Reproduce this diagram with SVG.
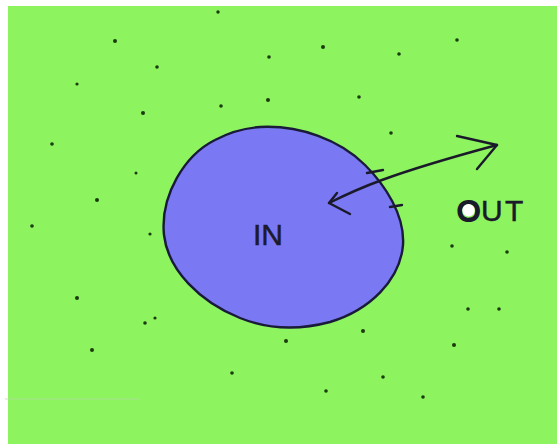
<svg xmlns="http://www.w3.org/2000/svg" width="557" height="444" viewBox="0 0 557 444">
<style>
.dot{fill:#1a3a10}
.ink{fill:none;stroke:#1a1a2a;stroke-width:2.4;stroke-linecap:round;stroke-linejoin:round}
.lbl{font-family:"Liberation Sans",Arial,sans-serif;fill:#1a1a2a;stroke:#1a1a2a;stroke-width:0.5}
</style>
<rect x="0" y="0" width="557" height="444" fill="#ffffff"/>
<rect x="8" y="6" width="549" height="438" fill="#8df35f"/>
<line x1="5" y1="399" x2="140" y2="399" stroke="#b8d8a8" stroke-width="1.2" opacity="0.7"/>
<g id="dots">
<circle class="dot" cx="218" cy="12" r="1.7"/><circle class="dot" cx="115" cy="41" r="2"/>
<circle class="dot" cx="323" cy="47" r="2"/><circle class="dot" cx="269" cy="57" r="1.8"/>
<circle class="dot" cx="399" cy="54" r="1.8"/><circle class="dot" cx="457" cy="40" r="1.8"/>
<circle class="dot" cx="157" cy="67" r="1.8"/><circle class="dot" cx="77" cy="84" r="1.6"/>
<circle class="dot" cx="359" cy="97" r="1.8"/><circle class="dot" cx="221" cy="106" r="1.8"/>
<circle class="dot" cx="268" cy="100" r="2"/><circle class="dot" cx="143" cy="113" r="2"/>
<circle class="dot" cx="391" cy="133" r="1.8"/><circle class="dot" cx="52" cy="144" r="1.8"/>
<circle class="dot" cx="136" cy="173" r="1.5"/><circle class="dot" cx="97" cy="200" r="2"/>
<circle class="dot" cx="32" cy="226" r="1.8"/><circle class="dot" cx="150" cy="234" r="1.6"/>
<circle class="dot" cx="77" cy="298" r="2"/><circle class="dot" cx="155" cy="318" r="1.6"/>
<circle class="dot" cx="452" cy="246" r="1.8"/><circle class="dot" cx="507" cy="252" r="1.8"/>
<circle class="dot" cx="499" cy="309" r="1.8"/><circle class="dot" cx="145" cy="323" r="1.8"/>
<circle class="dot" cx="468" cy="309" r="1.8"/><circle class="dot" cx="363" cy="331" r="2"/>
<circle class="dot" cx="286" cy="341" r="2"/><circle class="dot" cx="454" cy="345" r="2"/>
<circle class="dot" cx="92" cy="350" r="2"/><circle class="dot" cx="232" cy="373" r="1.8"/>
<circle class="dot" cx="383" cy="377" r="1.8"/><circle class="dot" cx="326" cy="391" r="1.8"/>
<circle class="dot" cx="423" cy="397" r="1.8"/>
</g>
<g id="in">
<path d="M260,127 C300,125 340,140 365,165 C385,185 405,215 403,245 C400,280 370,310 330,322 C300,330 270,330 240,318 C200,302 168,270 164,235 C160,195 185,155 215,140 C230,132 245,128 260,127 Z" fill="#7a78f2" stroke="#1a1a3a" stroke-width="2.4"/>
<text class="lbl" x="253" y="245" font-size="30">IN</text>
</g>
<g id="out">
<text class="lbl" x="457 481 505" y="221" font-size="30"><tspan stroke-width="2">O</tspan>UT</text>
<circle cx="468.5" cy="210.3" r="6.2" fill="#ffffff"/>
</g>
<g id="connectors">
<path class="ink" d="M329,203 C345,195 360,188 382,180 C420,166 460,155 497,145"/>
<path class="ink" d="M337,193 L329,203 L350,214"/>
<path class="ink" d="M457,136 L497,145 L477,169"/>
<line class="ink" x1="367" y1="173" x2="383" y2="170"/>
<line class="ink" x1="390" y1="207" x2="402" y2="205"/>
</g>
</svg>
